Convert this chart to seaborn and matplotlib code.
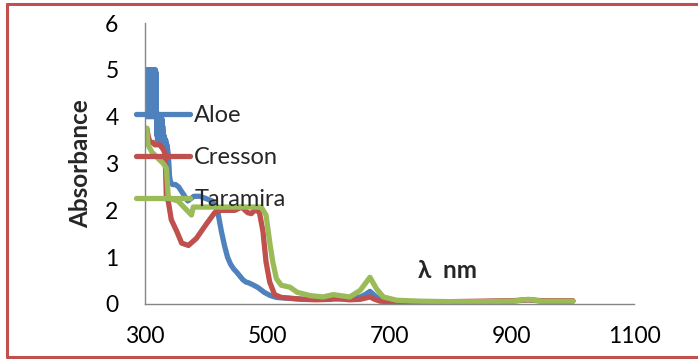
import numpy as np
import pandas as pd
import matplotlib
matplotlib.use("Agg")
import matplotlib.pyplot as plt
from matplotlib.lines import Line2D
import seaborn as sns

# ---- data ----
aloe_nm = [300.0, 300.5, 301.0, 301.5, 302.0, 302.5, 303.0, 303.5, 304.0, 304.5, 305.0, 305.5,
           306.0, 306.5, 307.0, 307.5, 308.0, 308.5, 309.0, 309.5, 310.0, 310.5, 311.0, 311.5,
           312.0, 312.5, 313.0, 313.5, 314.0, 314.5, 315.0, 315.5, 316.0, 316.5, 317.0, 317.5,
           318.0, 318.5, 319.0, 319.5, 320.0, 320.5, 321.0, 321.5, 322.0, 322.5, 323.0, 323.5,
           324.0, 324.5, 325.0, 325.5, 326.0, 326.5, 327.0, 327.5, 328.0, 328.5, 329.0, 329.5,
           330.0, 330.5, 331.0, 331.5, 332.0, 333.0, 334.0, 335.0, 336.0, 337.0, 338.0, 339.0,
           340.0, 341.0, 342.0, 345, 350, 355, 360, 365, 370, 375, 380, 390, 400, 410, 415, 420,
           425, 430, 435, 440, 445, 450, 455, 460, 465, 470, 478, 485, 495, 505, 515, 537, 560,
           600, 630, 652, 660, 668, 676, 685, 700, 750, 800, 850, 900, 927, 950, 1000]
aloe_abs = [5.0, 4.1, 5.0, 4.0, 5.0, 4.2, 4.95, 4.0, 5.0, 4.1, 5.0, 4.0,
            4.9, 4.2, 5.0, 4.0, 5.0, 4.1, 5.0, 4.0, 4.95, 4.2, 5.0, 4.0,
            5.0, 4.1, 5.0, 4.0, 4.9, 4.1, 5.0, 4.0, 5.0, 4.2, 5.0, 4.0,
            4.95, 4.0, 4.1, 3.6, 4.05, 3.5, 4.0, 3.6, 4.05, 3.5, 4.0, 3.55,
            4.0, 3.5, 3.95, 3.5, 4.0, 3.45, 3.9, 3.5, 3.95, 3.4, 3.8, 3.45,
            3.7, 3.4, 3.6, 3.4, 3.55, 3.4, 3.5, 3.35, 3.4, 3.3, 3.2, 3.0,
            2.75, 2.65, 2.6, 2.55, 2.55, 2.5, 2.4, 2.3, 2.2, 2.25, 2.3, 2.3, 2.25, 2.2, 2.1, 1.9,
            1.55, 1.25, 1.0, 0.85, 0.75, 0.68, 0.6, 0.52, 0.47, 0.45, 0.4, 0.35, 0.25, 0.18, 0.14, 0.12, 0.1,
            0.1, 0.12, 0.15, 0.2, 0.27, 0.18, 0.08, 0.05, 0.04, 0.04, 0.05, 0.06, 0.09, 0.06, 0.06]

cresson_nm = [303, 305, 308, 313, 316, 324, 330, 333, 335, 338, 343, 352, 360, 371, 384, 392, 400,
              414, 425, 447, 458, 468, 474, 479, 487, 493, 498, 504, 512, 523, 540, 559, 580, 603,
              608, 635, 652, 668, 676, 685, 700, 750, 800, 850, 900, 927, 950, 1000]
cresson_abs = [3.75, 3.6, 3.45, 3.45, 3.4, 3.4, 3.3, 3.2, 2.25, 2.2, 1.8, 1.55, 1.3, 1.25, 1.4, 1.55, 1.7,
               1.95, 2.0, 2.0, 2.07, 1.95, 1.93, 2.0, 1.97, 1.55, 0.9, 0.47, 0.2, 0.14, 0.12, 0.1, 0.09, 0.1,
               0.12, 0.09, 0.1, 0.15, 0.1, 0.06, 0.05, 0.05, 0.05, 0.06, 0.07, 0.09, 0.07, 0.07]

taramira_nm = [303, 305, 311, 322, 330, 335, 338, 341, 354, 365, 376, 379, 387, 420, 460, 490, 498,
               504, 509, 515, 523, 537, 549, 570, 591, 608, 635, 652, 668, 679, 690, 712, 750, 800,
               850, 900, 927, 950, 1000]
taramira_abs = [3.75, 3.4, 3.25, 3.1, 3.0, 2.9, 2.3, 2.25, 2.2, 2.05, 1.9, 2.07, 2.07, 2.07, 2.07, 2.07, 1.9,
                1.32, 0.9, 0.54, 0.4, 0.36, 0.25, 0.18, 0.15, 0.2, 0.15, 0.29, 0.57, 0.32, 0.15, 0.08, 0.06, 0.05,
                0.05, 0.06, 0.1, 0.06, 0.06]

series_names = ["Aloe", "Cresson", "Taramira"]
colors = {"Aloe": "#4F81BD", "Cresson": "#C0504D", "Taramira": "#9BBB59"}
x_ticks = [300, 500, 700, 900, 1100]
y_ticks = [0, 1, 2, 3, 4, 5, 6]

df = pd.concat([
    pd.DataFrame({"nm": aloe_nm, "abs": aloe_abs, "series": "Aloe"}),
    pd.DataFrame({"nm": cresson_nm, "abs": cresson_abs, "series": "Cresson"}),
    pd.DataFrame({"nm": taramira_nm, "abs": taramira_abs, "series": "Taramira"}),
], ignore_index=True)

sns.set_style("white")
plt.rcParams["font.family"] = ["Lato", "DejaVu Sans"]

fig = plt.figure(figsize=(6.98, 3.59), dpi=100)
ax = fig.add_axes([145 / 698, 1 - 304 / 359, (634 - 145) / 698, (304 - 23) / 359])

LW = 3.8
sns.lineplot(data=df, x="nm", y="abs", hue="series", hue_order=series_names,
             palette=colors, linewidth=LW, sort=False, estimator=None, ax=ax,
             solid_joinstyle="round", solid_capstyle="round")

ax.set_xlim(300, 1100)
ax.set_ylim(0, 6)
ax.set_xticks(x_ticks)
ax.set_yticks(y_ticks)
ax.tick_params(axis="both", labelsize=16.5, colors="#868686", labelcolor="black",
               length=6, width=1, direction="out")
ax.tick_params(axis="x", pad=10)
ax.tick_params(axis="y", pad=13)
for s in ["top", "right"]:
    ax.spines[s].set_visible(False)
for s in ["left", "bottom"]:
    ax.spines[s].set_color("#868686")
    ax.spines[s].set_linewidth(1)
ax.set_facecolor("white")

ax.set_ylabel("Absorbance", fontsize=17.5, fontweight="bold")
ax.yaxis.set_label_coords((92 - 145) / (634 - 145), 0.5)
ax.set_xlabel("λ  nm", fontsize=17.5, fontweight="bold")
ax.xaxis.set_label_coords((447 - 145) / (634 - 145), (304 - 259) / (304 - 23))

leg = ax.legend(loc="upper left", bbox_to_anchor=(136 / 698, 1 - 105 / 359),
                bbox_transform=fig.transFigure, frameon=False, fontsize=17,
                handlelength=2.3, handletextpad=0.17, labelspacing=0.9, borderpad=0,
                borderaxespad=0)
for line in leg.get_lines():
    line.set_linewidth(LW)
    line.set_solid_capstyle("round")

# red frame (left, top, bottom)
fc = "#C0504D"
fig.add_artist(Line2D([7.5 / 698, 7.5 / 698], [1 - 357 / 359, 1 - 3.5 / 359], color=fc, lw=2.2,
                      transform=fig.transFigure))
fig.add_artist(Line2D([6.5 / 698, 1.0], [1 - 3.5 / 359, 1 - 3.5 / 359], color=fc, lw=2.2,
                      transform=fig.transFigure))
fig.add_artist(Line2D([6.5 / 698, 1.0], [1 - 357 / 359, 1 - 357 / 359], color=fc, lw=2.2,
                      transform=fig.transFigure))

fig.savefig("out.png", dpi=100, facecolor="white")
